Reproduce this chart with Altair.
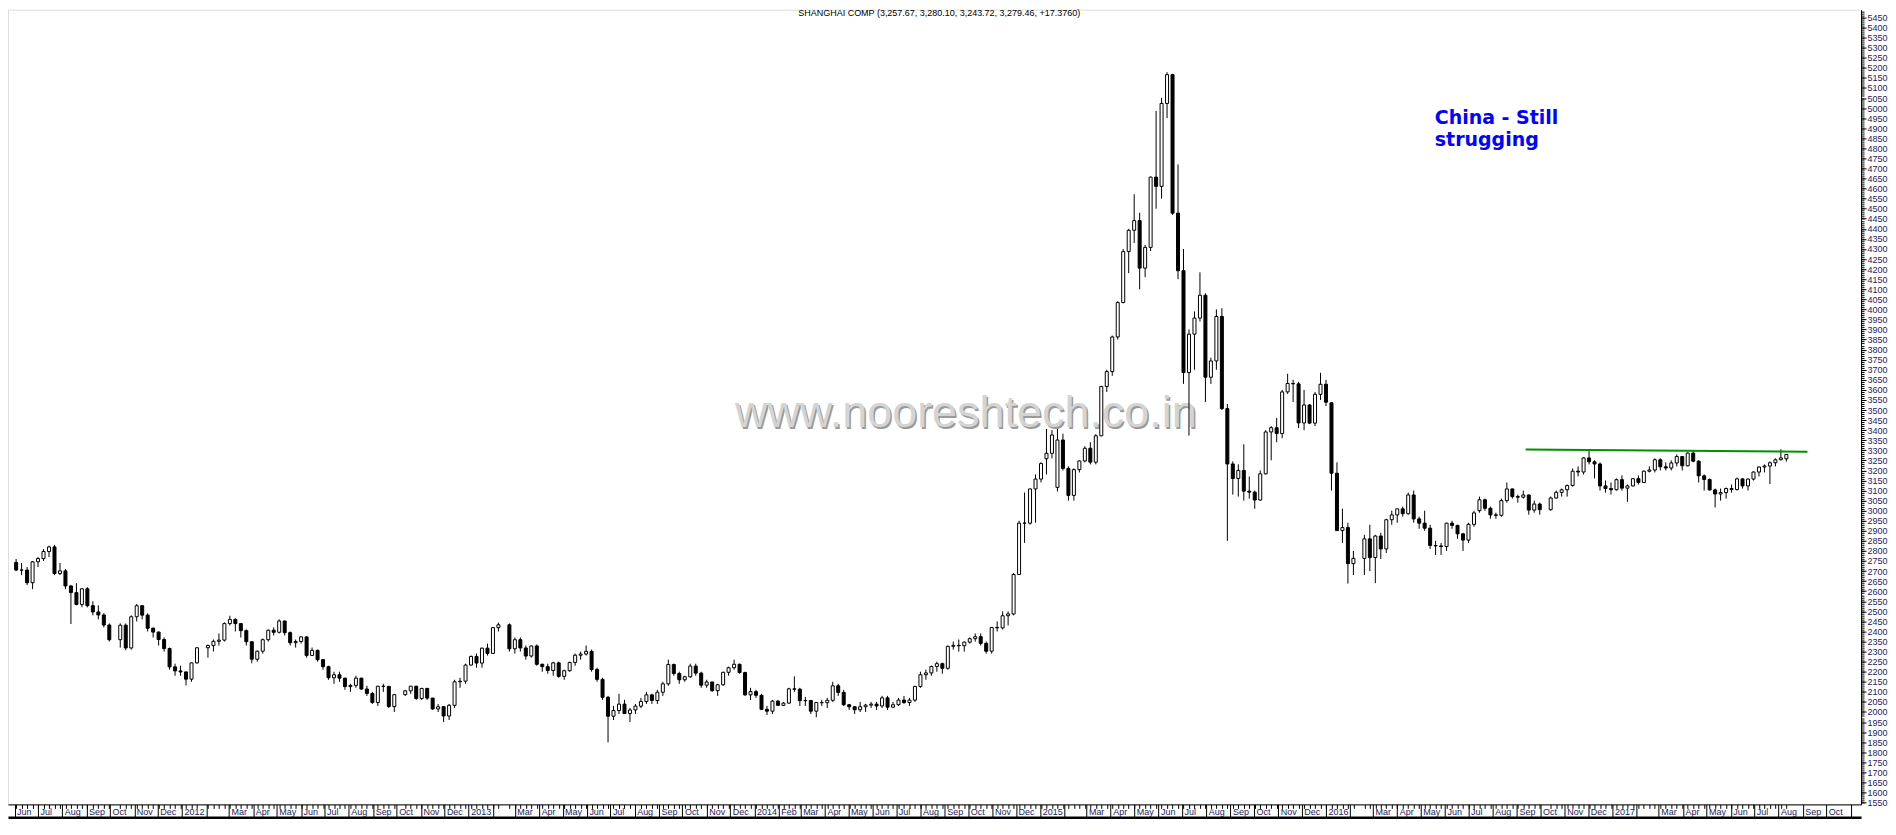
import altair as alt
import pandas as pd

# weekly candles (open, high, low, close), one list per year
y2011 = [
(2743,2760,2700,2705),(2705,2740,2680,2705),(2705,2720,2630,2642),(2642,2750,2610,2746),
(2746,2770,2720,2762),(2762,2810,2750,2797),(2797,2826,2770,2820),(2820,2830,2680,2688),
(2688,2740,2680,2701),(2701,2710,2610,2626),(2626,2630,2437,2593),(2593,2640,2530,2534),
(2534,2615,2520,2612),(2612,2620,2520,2528),(2528,2550,2480,2497),(2497,2530,2460,2482),
(2482,2490,2420,2432),(2432,2440,2350,2359),(2359,2440,2320,2431),(2431,2440,2307,2318),
(2318,2480,2310,2473),(2473,2536,2450,2528),(2528,2530,2460,2481),(2481,2490,2400,2416),
(2416,2420,2370,2397),(2397,2400,2330,2360),(2360,2370,2300,2315),(2315,2320,2210,2224),
(2224,2240,2180,2204),(2204,2230,2180,2199),
]
y2012 = [
(2199,2200,2132,2163),(2163,2245,2150,2244),(2244,2320,2240,2319),(2319,2335,2270,2330),
(2330,2360,2300,2351),(2351,2390,2330,2357),(2357,2445,2350,2439),(2439,2478,2430,2460),
(2460,2465,2400,2439),(2439,2440,2370,2404),(2404,2410,2330,2349),(2349,2350,2242,2262),
(2262,2305,2250,2302),(2302,2365,2290,2359),(2359,2410,2350,2406),(2406,2420,2380,2396),
(2396,2460,2390,2452),(2452,2454,2380,2394),(2394,2400,2330,2344),(2344,2360,2320,2350),
(2350,2375,2340,2373),(2373,2375,2270,2281),(2281,2320,2280,2306),(2306,2310,2250,2260),
(2260,2262,2210,2225),(2225,2230,2160,2170),(2170,2200,2140,2185),(2185,2200,2150,2168),
(2168,2170,2110,2126),(2126,2140,2100,2132),(2132,2180,2120,2168),(2168,2170,2110,2114),
(2114,2130,2080,2092),(2092,2100,2040,2047),(2047,2130,2030,2128),(2128,2140,2100,2127),
(2127,2130,2020,2027),(2027,2090,2000,2086),(2086,2110,2080,2105),(2105,2130,2090,2128),
(2128,2130,2060,2067),(2067,2120,2060,2117),(2117,2120,2060,2069),(2069,2070,2010,2015),
(2015,2040,2000,2026),(2026,2030,1950,1980),(1980,2040,1960,2033),(2033,2160,2020,2150),
(2150,2170,2120,2153),(2153,2240,2140,2233),
]
y2013 = [
(2233,2280,2230,2276),(2276,2290,2220,2243),(2243,2320,2220,2317),(2317,2340,2280,2291),
(2291,2420,2290,2419),(2419,2444,2400,2433),(2433,2440,2300,2314),(2314,2370,2290,2359),
(2359,2370,2300,2318),(2318,2330,2260,2278),(2278,2330,2270,2328),(2328,2335,2230,2237),
(2237,2240,2200,2225),(2225,2240,2190,2206),(2206,2250,2180,2244),(2244,2250,2170,2177),
(2177,2210,2160,2205),(2205,2250,2200,2246),(2246,2290,2230,2282),(2282,2300,2260,2288),
(2288,2330,2280,2301),(2301,2310,2200,2211),(2211,2220,2150,2162),(2162,2170,2060,2073),
(2073,2080,1849,1979),(1979,2030,1960,2007),(2007,2090,1990,2039),(2039,2060,1990,1992),
(1992,2020,1950,2010),(2010,2040,1990,2029),(2029,2070,2020,2052),(2052,2100,2040,2085),
(2085,2090,2040,2057),(2057,2110,2040,2098),(2098,2150,2080,2140),(2140,2260,2130,2236),
(2236,2240,2180,2191),(2191,2200,2140,2160),(2160,2180,2150,2175),(2175,2240,2170,2228),
(2228,2240,2180,2193),(2193,2200,2120,2133),(2133,2160,2120,2149),(2149,2150,2100,2106),
(2106,2140,2080,2135),(2135,2200,2130,2197),(2197,2225,2180,2220),(2220,2260,2210,2237),
(2237,2240,2190,2196),(2196,2200,2080,2085),(2085,2120,2060,2101),
]
y2014 = [
(2101,2110,2070,2083),(2083,2090,2010,2013),(2013,2030,1985,2004),(2004,2060,1990,2054),
(2054,2060,2030,2033),(2033,2050,2030,2044),(2044,2120,2040,2115),(2115,2177,2100,2113),
(2113,2120,2030,2056),(2056,2075,2030,2057),(2057,2060,1990,2004),(2004,2050,1974,2047),
(2047,2060,2030,2046),(2046,2070,2020,2058),(2058,2150,2050,2130),(2130,2140,2080,2097),
(2097,2110,2030,2036),(2036,2040,2010,2026),(2026,2030,1990,2011),(2011,2050,2000,2026),
(2026,2040,2000,2034),(2034,2050,2020,2039),(2039,2050,2010,2030),(2030,2080,2020,2070),
(2070,2080,2010,2024),(2024,2050,2020,2036),(2036,2070,2030,2059),(2059,2080,2040,2047),
(2047,2070,2030,2059),(2059,2130,2050,2127),(2127,2200,2120,2185),(2185,2210,2160,2194),
(2194,2230,2180,2226),(2226,2250,2200,2240),(2240,2245,2190,2217),(2217,2330,2210,2326),
(2326,2350,2310,2331),(2331,2360,2300,2329),(2329,2350,2300,2347),(2347,2370,2340,2364),
(2364,2390,2350,2374),(2374,2390,2330,2341),(2341,2350,2290,2302),(2302,2420,2290,2420),
(2420,2450,2400,2418),(2418,2500,2410,2478),(2478,2500,2430,2487),(2487,2690,2480,2683),
(2683,2950,2680,2938),(2938,3090,2840,2938),(2938,3110,2930,3108),(3108,3180,2940,3157),
]
y2015 = [
(3157,3240,3140,3234),(3258,3406,3180,3285),(3285,3400,3260,3376),(3116,3406,3095,3351),
(3351,3383,3200,3210),(3210,3220,3050,3076),(3076,3210,3050,3204),(3204,3250,3190,3247),
(3247,3320,3240,3310),(3310,3340,3230,3241),(3241,3380,3230,3372),(3372,3620,3370,3617),
(3617,3700,3590,3691),(3691,3870,3670,3863),(3863,4040,3850,4034),(4034,4300,4030,4287),
(4287,4400,4180,4393),(4393,4572,4330,4441),(4441,4480,4100,4205),(4205,4320,4160,4308),
(4308,4660,4290,4657),(4657,4986,4500,4611),(4611,5051,4550,5023),(5023,5178,4950,5166),
(5166,5170,4470,4478),(4478,4720,4150,4192),(4192,4300,3630,3686),(3686,3900,3373,3877),
(3877,3990,3700,3957),(3957,4184,3940,4070),(4070,4080,3540,3663),(3663,3760,3630,3744),
(3744,4000,3700,3965),(3965,4006,3500,3507),(3507,3530,2850,3232),(3232,3245,3080,3160),
(3160,3230,3070,3200),(3200,3330,3050,3097),(3097,3170,3060,3092),(3092,3100,3010,3053),
(3053,3200,3050,3183),(3183,3400,3180,3391),(3391,3420,3250,3412),(3412,3460,3340,3383),
(3383,3600,3360,3590),(3590,3680,3580,3632),(3632,3650,3540,3630),(3630,3640,3410,3436),
(3436,3600,3400,3525),(3525,3530,3430,3435),(3435,3590,3420,3578),(3578,3685,3550,3628),
]
y2016 = [
(3628,3650,3520,3539),(3536,3540,3100,3186),(3186,3240,2900,2901),(2901,3010,2840,2916),
(2916,2940,2638,2737),(2737,2800,2680,2763),(2763,2880,2680,2860),(2860,2930,2700,2767),
(2767,2880,2640,2874),(2874,2890,2760,2810),(2810,2960,2790,2955),(2955,3000,2930,2979),
(2979,3010,2940,3009),(3009,3020,2970,2985),(2985,3090,2980,3078),(3078,3100,2940,2959),
(2959,2970,2910,2938),(2938,3000,2900,2913),(2913,2930,2810,2827),(2827,2850,2780,2825),
(2825,2840,2780,2822),(2822,2940,2800,2938),(2938,2950,2910,2927),(2927,2930,2860,2885),
(2885,2890,2800,2854),(2854,2940,2840,2932),(2932,3000,2920,2989),(3000,3070,2990,3054),
(3054,3060,3000,3012),(3012,3020,2960,2979),(2979,2990,2960,2977),(2977,3060,2970,3050),
(3050,3140,3040,3108),(3108,3110,3060,3070),(3070,3080,3040,3067),(3067,3100,3060,3078),
(3078,3080,2980,3003),(3003,3050,2990,3033),(3033,3040,2980,3005),(3005,3070,3000,3063),
(3063,3100,3060,3091),(3091,3110,3070,3104),(3104,3130,3070,3125),(3125,3210,3120,3196),
(3196,3220,3170,3192),(3192,3265,3180,3262),(3262,3301,3230,3243),(3243,3250,3160,3232),
(3232,3240,3100,3123),(3123,3150,3090,3110),(3110,3140,3080,3104),
]
y2017 = [
(3104,3160,3100,3154),(3154,3175,3100,3112),(3112,3130,3044,3123),(3123,3160,3120,3159),
(3159,3175,3130,3140),(3140,3200,3140,3196),(3196,3220,3190,3202),(3202,3260,3190,3253),
(3253,3260,3200,3218),(3218,3240,3200,3212),(3212,3250,3200,3237),(3237,3280,3220,3269),
(3269,3270,3200,3223),(3223,3290,3220,3286),(3286,3295,3240,3246),(3246,3250,3140,3173),
(3173,3180,3100,3155),(3155,3160,3100,3103),(3103,3110,3016,3083),(3083,3110,3050,3090),
(3090,3115,3060,3110),(3110,3130,3090,3105),(3105,3165,3100,3158),(3158,3160,3110,3123),
(3123,3160,3100,3157),(3157,3195,3150,3192),(3192,3220,3170,3217),(3217,3230,3190,3222),
(3222,3245,3132,3238),(3238,3260,3220,3253),(3253,3305,3250,3262),(3257.67,3280.10,3243.72,3279.46),
]

# weeks with no trading (holiday weeks) are not shown as candles
holiday_weeks = ["2011-10-07", "2012-01-27", "2012-10-05", "2013-02-15", "2016-02-12", "2016-10-07"]

# resistance line (start date, end date, levels)
res_dates = ["2016-09-12", "2017-09-07"]
res_levels = [3304, 3293]

title_text = "SHANGHAI COMP (3,257.67, 3,280.10, 3,243.72, 3,279.46, +17.3760)"
note_lines = ["China - Still", "strugging"]
note_dates = ["2016-05-19", "2016-05-19"]
note_levels = [4919, 4814]
watermark = "www.nooreshtech.co.in"
watermark_date = "2014-09-28"
watermark_level = 3483
title_date = "2014-08-25"
title_level = 5470


def ms(s):
    return int(pd.Timestamp(s).timestamp() * 1000)


fridays = pd.date_range("2011-06-03", "2017-08-11", freq="W-FRI")
dates = [d for d in fridays if d.strftime("%Y-%m-%d") not in holiday_weeks]
rows = y2011 + y2012 + y2013 + y2014 + y2015 + y2016 + y2017
assert len(rows) == len(dates), (len(rows), len(dates))
df = pd.DataFrame(rows, columns=["o", "h", "l", "c"])
df["t"] = [int(d.timestamp() * 1000) for d in dates]
df["dir"] = ["up" if c >= o else "down" for o, c in zip(df.o, df.c)]

xdom = [ms("2011-05-30"), ms("2017-11-08")]
ydom = [1541, 5489]
xscale = alt.Scale(type="utc", domain=xdom)
yscale = alt.Scale(domain=ydom, nice=False, zero=False)

FONT = "Liberation Sans"
LABEL_COLOR = "#1c1c5c"

week_ticks = list(df.t)
month_ticks = [ms(d) for d in pd.date_range("2011-06-01", "2017-11-01", freq="MS")]
minor_y = [v for v in range(1550, 5490, 10)]
major_y = list(range(1550, 5451, 50))

label_expr = ("utcmonth(datum.value) == 0 ? utcFormat(datum.value, '%Y') : "
              "(utcmonth(datum.value) == 1 && utcyear(datum.value) != 2014 ? '' : "
              "(utcmonth(datum.value) == 10 && utcyear(datum.value) == 2017 ? '' : utcFormat(datum.value, '%b')))")

xA = alt.Axis(orient="bottom", values=week_ticks, labels=False, tickSize=4, tickColor="black",
              domain=True, domainColor="black", grid=False, title=None)
xB = alt.Axis(orient="bottom", values=month_ticks, tickSize=13, tickColor="black", labelExpr=label_expr,
              labelAlign="left", labelBaseline="top", labelPadding=-10, labelOffset=2, labelFont=FONT,
              labelFontSize=9, labelColor=LABEL_COLOR, labelOverlap=False, labelBound=False,
              labelFlush=False, domain=False, grid=False, title=None)
xC = alt.Axis(orient="bottom", values=[month_ticks[0]], offset=13, domain=True, domainWidth=2.5,
              domainColor="black", ticks=False, labels=False, grid=False, title=None)
yMinor = alt.Axis(orient="right", values=minor_y, labels=False, tickSize=3, tickColor="black",
                  domain=True, domainColor="black", grid=False, title=None)
yMajor = alt.Axis(orient="right", values=major_y, format="d", tickSize=5, tickColor="black",
                  labelPadding=1, labelFont=FONT, labelFontSize=9, labelColor=LABEL_COLOR,
                  labelOverlap=False, domain=False, grid=False, title=None)

wick = alt.Chart(df).mark_rule(color="black", strokeWidth=1).encode(
    x=alt.X("t:T", scale=xscale, axis=xA),
    y=alt.Y("l:Q", scale=yscale, axis=yMinor),
    y2="h:Q",
)
body = alt.Chart(df).mark_bar(width=3, stroke="black", strokeWidth=1).encode(
    x=alt.X("t:T", scale=xscale, axis=xB),
    y=alt.Y("o:Q", scale=yscale, axis=yMajor),
    y2="c:Q",
    fill=alt.Fill("dir:N", scale=alt.Scale(domain=["up", "down"], range=["white", "black"]), legend=None),
)

res_df = pd.DataFrame({"t": [ms(d) for d in res_dates], "v": res_levels})
res = alt.Chart(res_df).mark_line(color="#009000", strokeWidth=2).encode(
    x=alt.X("t:T", scale=xscale, axis=xC),
    y=alt.Y("v:Q", scale=yscale, axis=None),
)

wm_df = pd.DataFrame({"t": [ms(watermark_date)], "v": [watermark_level], "s": [watermark]})
wm_shadow = alt.Chart(wm_df).mark_text(font=FONT, fontSize=45, color="#9a9a9a", dx=1.5, dy=1.5).encode(
    x=alt.X("t:T", scale=xscale, axis=None), y=alt.Y("v:Q", scale=yscale, axis=None), text="s:N")
wm_front = alt.Chart(wm_df).mark_text(font=FONT, fontSize=45, color="#d4d4d4").encode(
    x=alt.X("t:T", scale=xscale, axis=None), y=alt.Y("v:Q", scale=yscale, axis=None), text="s:N")

title_df = pd.DataFrame({"t": [ms(title_date)], "v": [title_level], "s": [title_text]})
title = alt.Chart(title_df).mark_text(font=FONT, fontSize=9, color="black", baseline="middle").encode(
    x=alt.X("t:T", scale=xscale, axis=None), y=alt.Y("v:Q", scale=yscale, axis=None), text="s:N")

note_df = pd.DataFrame({"t": [ms(d) for d in note_dates], "v": note_levels, "s": note_lines})
note = alt.Chart(note_df).mark_text(font="DejaVu Sans", fontSize=19, fontWeight="bold", color="#0000ff",
                                    align="left", baseline="alphabetic").encode(
    x=alt.X("t:T", scale=xscale, axis=None), y=alt.Y("v:Q", scale=yscale, axis=None), text="s:N")

chart = alt.layer(wm_shadow, wm_front, wick, body, res, title, note).resolve_axis(
    x="independent", y="independent"
).properties(width=1856, height=796, padding=0).configure_view(stroke="black", strokeWidth=1.5
).configure(background="white")

chart.save("out.html", embed_options={"renderer": "svg", "actions": False})
